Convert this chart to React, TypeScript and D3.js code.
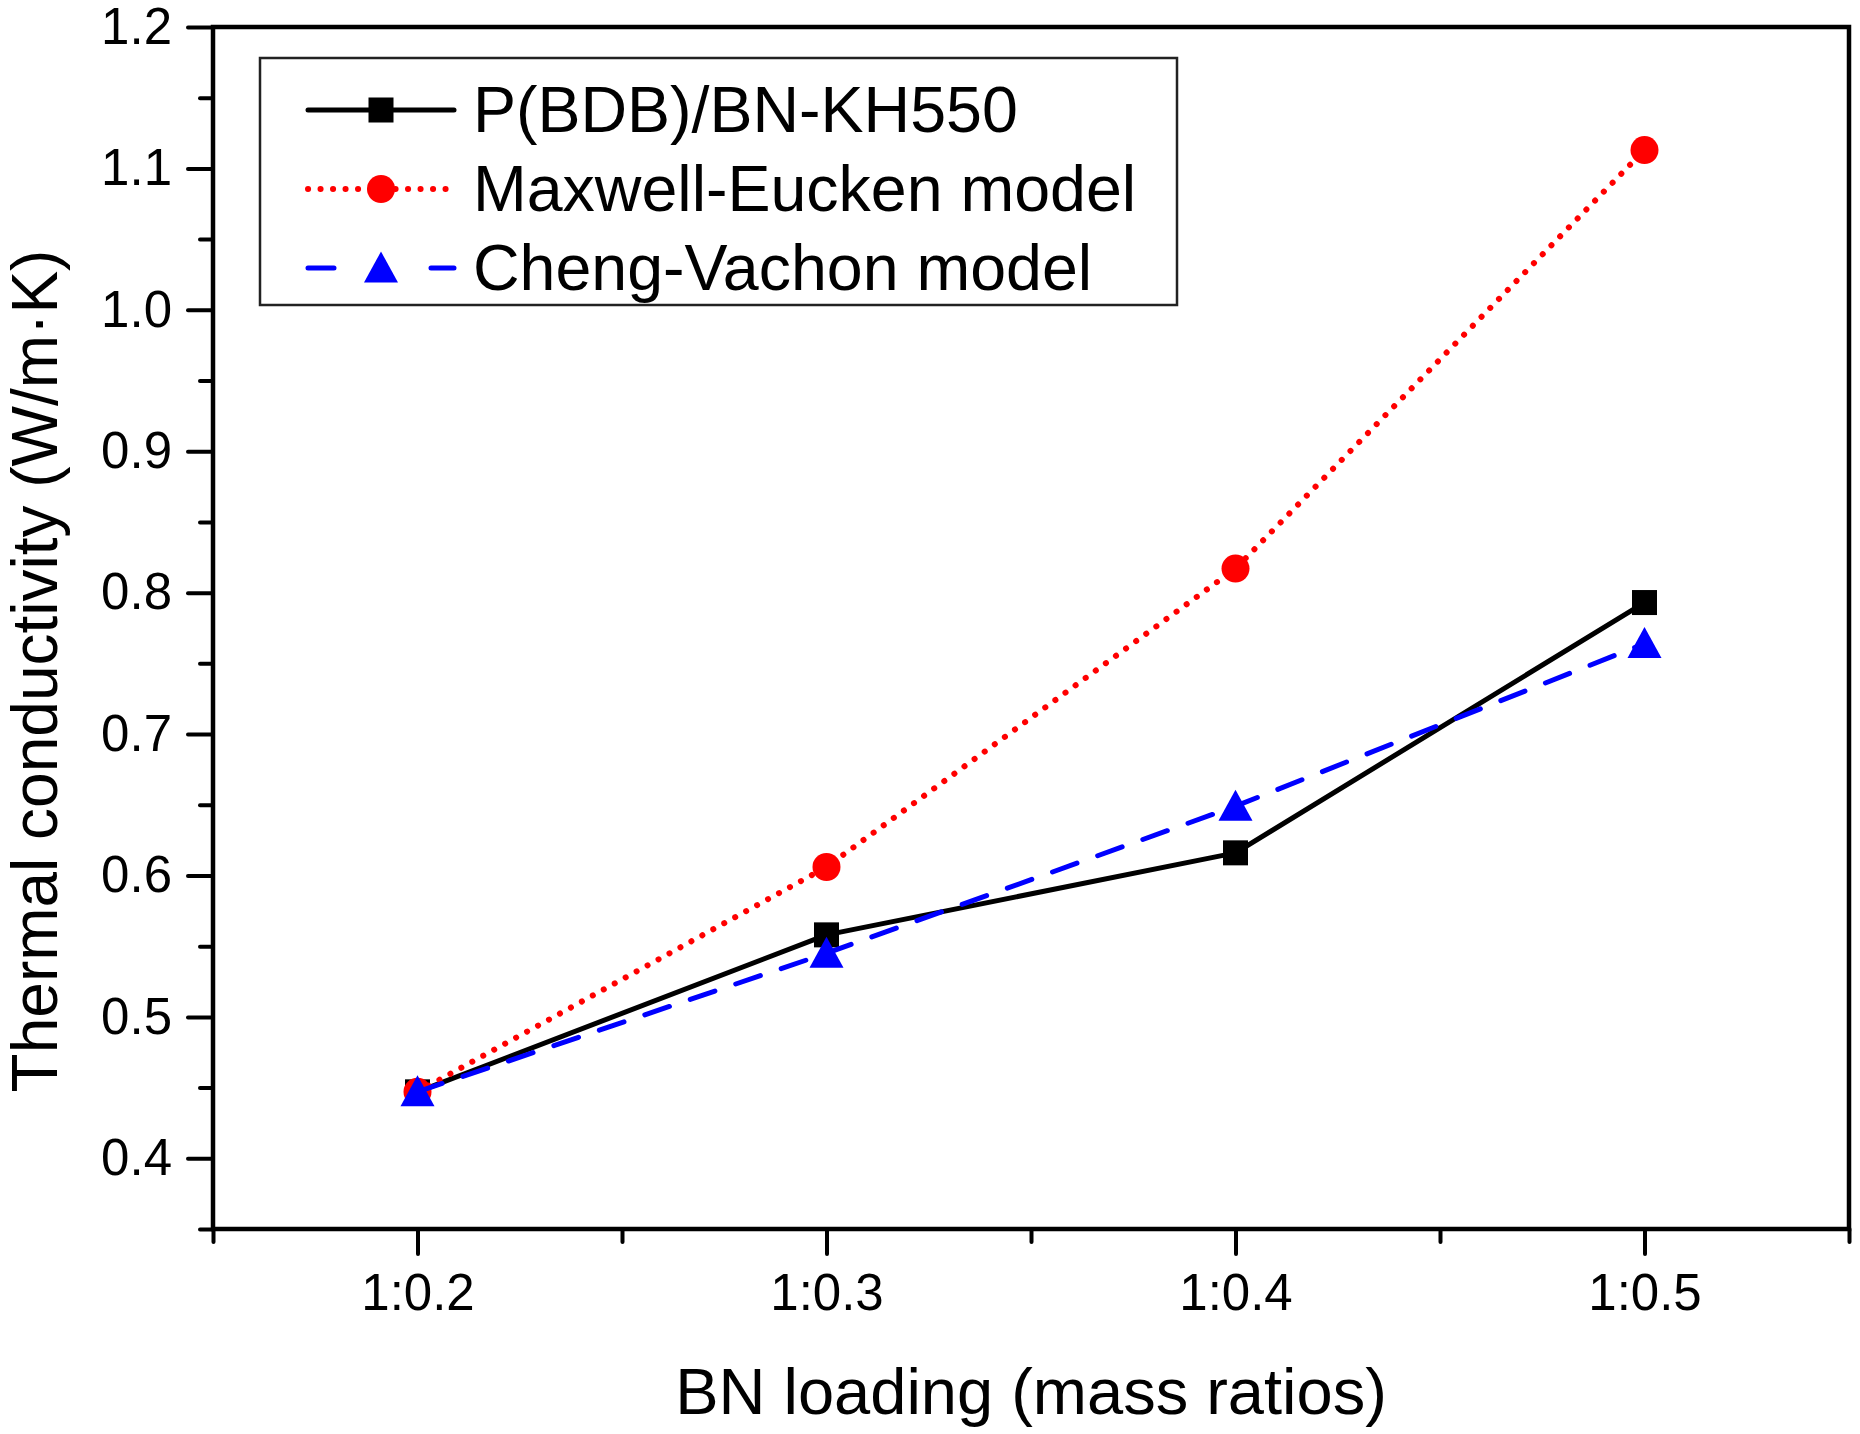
import { useEffect, useRef } from "react";
import * as d3 from "d3";

// BN loading (mass ratio of polymer : BN)
const loading = [0.2, 0.3, 0.4, 0.5];
const ratioLabels = ["1:0.2", "1:0.3", "1:0.4", "1:0.5"];

// Thermal conductivity, W/m·K
const measured = [0.447, 0.558, 0.616, 0.793];
const maxwellEucken = [0.447, 0.606, 0.817, 1.113];
const chengVachon = [0.447, 0.545, 0.649, 0.764];

const yMajorTicks = [0.4, 0.5, 0.6, 0.7, 0.8, 0.9, 1.0, 1.1, 1.2];
const yMinorTicks = [0.35, 0.45, 0.55, 0.65, 0.75, 0.85, 0.95, 1.05, 1.15];
const xMinorTicks = [0.15, 0.25, 0.35, 0.45, 0.55];

const seriesNames = ["P(BDB)/BN-KH550", "Maxwell-Eucken model", "Cheng-Vachon model"];

const W = 1860;
const H = 1434;
const FONT = "'Liberation Sans', Arial, Helvetica, sans-serif";

type Marker = "square" | "circle" | "triangle";

interface Series {
  name: string;
  values: number[];
  color: string;
  dash: string | null;
  width: number;
  marker: Marker;
}

const series: Series[] = [
  { name: seriesNames[0], values: measured, color: "#000000", dash: null, width: 5, marker: "square" },
  { name: seriesNames[1], values: maxwellEucken, color: "#ff0000", dash: "0.1 12.4", width: 6, marker: "circle" },
  { name: seriesNames[2], values: chengVachon, color: "#0000ff", dash: "26 22", width: 5, marker: "triangle" },
];

function drawMarker(
  sel: d3.Selection<SVGGElement, unknown, null, undefined>,
  marker: Marker,
  cx: number,
  cy: number,
  color: string
) {
  if (marker === "square") {
    sel.append("rect")
      .attr("x", cx - 12.5)
      .attr("y", cy - 12.5)
      .attr("width", 25)
      .attr("height", 25)
      .attr("fill", color);
  } else if (marker === "circle") {
    sel.append("circle").attr("cx", cx).attr("cy", cy).attr("r", 14).attr("fill", color);
  } else {
    sel.append("path")
      .attr("d", `M${cx},${cy - 16.5}L${cx + 17},${cy + 14.5}L${cx - 17},${cy + 14.5}Z`)
      .attr("fill", color);
  }
}

export default function App() {
  const svgRef = useRef<SVGSVGElement>(null);

  useEffect(() => {
    if (!svgRef.current) return;
    const margin = { top: 27, right: 11, bottom: 205, left: 213 };
    const x0 = margin.left;
    const x1 = W - margin.right;
    const y0 = margin.top;
    const y1 = H - margin.bottom;

    const svg = d3.select(svgRef.current);
    svg.selectAll("*").remove();

    const x = d3.scaleLinear().domain([0.15, 0.55]).range([x0, x1]);
    const y = d3.scaleLinear().domain([0.35, 1.2]).range([y1, y0]);

    const g = svg.append("g");

    // Axis ticks
    const styleAxis = (axis: d3.Selection<SVGGElement, unknown, null, undefined>) => {
      axis.select(".domain").remove();
      axis.selectAll(".tick line").attr("stroke", "#000").attr("stroke-width", 4).attr("stroke-linecap", "round");
      axis.selectAll(".tick text")
        .attr("font-family", FONT)
        .attr("font-size", 51)
        .attr("fill", "#000");
    };

    g.append("g")
      .attr("transform", `translate(${x0},0)`)
      .call(d3.axisLeft(y).tickValues(yMajorTicks).tickSize(25).tickPadding(16).tickFormat(d3.format(".1f")))
      .call(styleAxis);

    g.append("g")
      .attr("transform", `translate(${x0},0)`)
      .call(d3.axisLeft(y).tickValues(yMinorTicks).tickSize(13).tickFormat(() => ""))
      .call(styleAxis);

    g.append("g")
      .attr("transform", `translate(0,${y1})`)
      .call(
        d3.axisBottom(x)
          .tickValues(loading)
          .tickSize(25)
          .tickPadding(20)
          .tickFormat((_, i) => ratioLabels[i])
      )
      .call(styleAxis);

    g.append("g")
      .attr("transform", `translate(0,${y1})`)
      .call(d3.axisBottom(x).tickValues(xMinorTicks).tickSize(13).tickFormat(() => ""))
      .call(styleAxis);

    // Frame
    g.append("rect")
      .attr("x", x0)
      .attr("y", y0)
      .attr("width", x1 - x0)
      .attr("height", y1 - y0)
      .attr("fill", "none")
      .attr("stroke", "#000")
      .attr("stroke-width", 4.5);

    // Series
    series.forEach((s) => {
      const line = d3
        .line<number>()
        .x((_, i) => x(loading[i]))
        .y((d) => y(d));
      g.append("path")
        .datum(s.values)
        .attr("fill", "none")
        .attr("stroke", s.color)
        .attr("stroke-width", s.width)
        .attr("stroke-linecap", "round")
        .attr("stroke-linejoin", "round")
        .attr("stroke-dasharray", s.dash)
        .attr("d", line);
      const mg = g.append("g");
      s.values.forEach((v, i) => drawMarker(mg, s.marker, x(loading[i]), y(v), s.color));
    });

    // Legend
    const lg = g.append("g");
    lg.append("rect")
      .attr("x", 260)
      .attr("y", 58)
      .attr("width", 917)
      .attr("height", 247)
      .attr("fill", "#fff")
      .attr("stroke", "#222")
      .attr("stroke-width", 2.5);
    series.forEach((s, i) => {
      const cy = 110 + i * 79;
      lg.append("line")
        .attr("x1", 308)
        .attr("x2", 454)
        .attr("y1", cy)
        .attr("y2", cy)
        .attr("stroke", s.color)
        .attr("stroke-width", s.width)
        .attr("stroke-linecap", "round")
        .attr("stroke-dasharray", s.marker === "triangle" ? "26 97" : s.dash);
      drawMarker(lg, s.marker, 381, cy, s.color);
      lg.append("text")
        .attr("x", 473)
        .attr("y", cy + 22)
        .attr("font-family", FONT)
        .attr("font-size", 64.5)
        .attr("fill", "#000")
        .text(s.name);
    });

    // Axis titles
    g.append("text")
      .attr("x", (x0 + x1) / 2)
      .attr("y", 1414)
      .attr("text-anchor", "middle")
      .attr("font-family", FONT)
      .attr("font-size", 65)
      .attr("fill", "#000")
      .text("BN loading (mass ratios)");

    g.append("text")
      .attr("transform", `translate(57,671) rotate(-90)`)
      .attr("text-anchor", "middle")
      .attr("font-family", FONT)
      .attr("font-size", 64)
      .attr("fill", "#000")
      .text("Thermal conductivity (W/m\u00b7K)");
  }, []);

  return (
    <div>
      <style>{"body{margin:0;background:#fff}"}</style>
      <svg ref={svgRef} width={W} height={H} viewBox={`0 0 ${W} ${H}`} style={{ display: "block" }} />
    </div>
  );
}
